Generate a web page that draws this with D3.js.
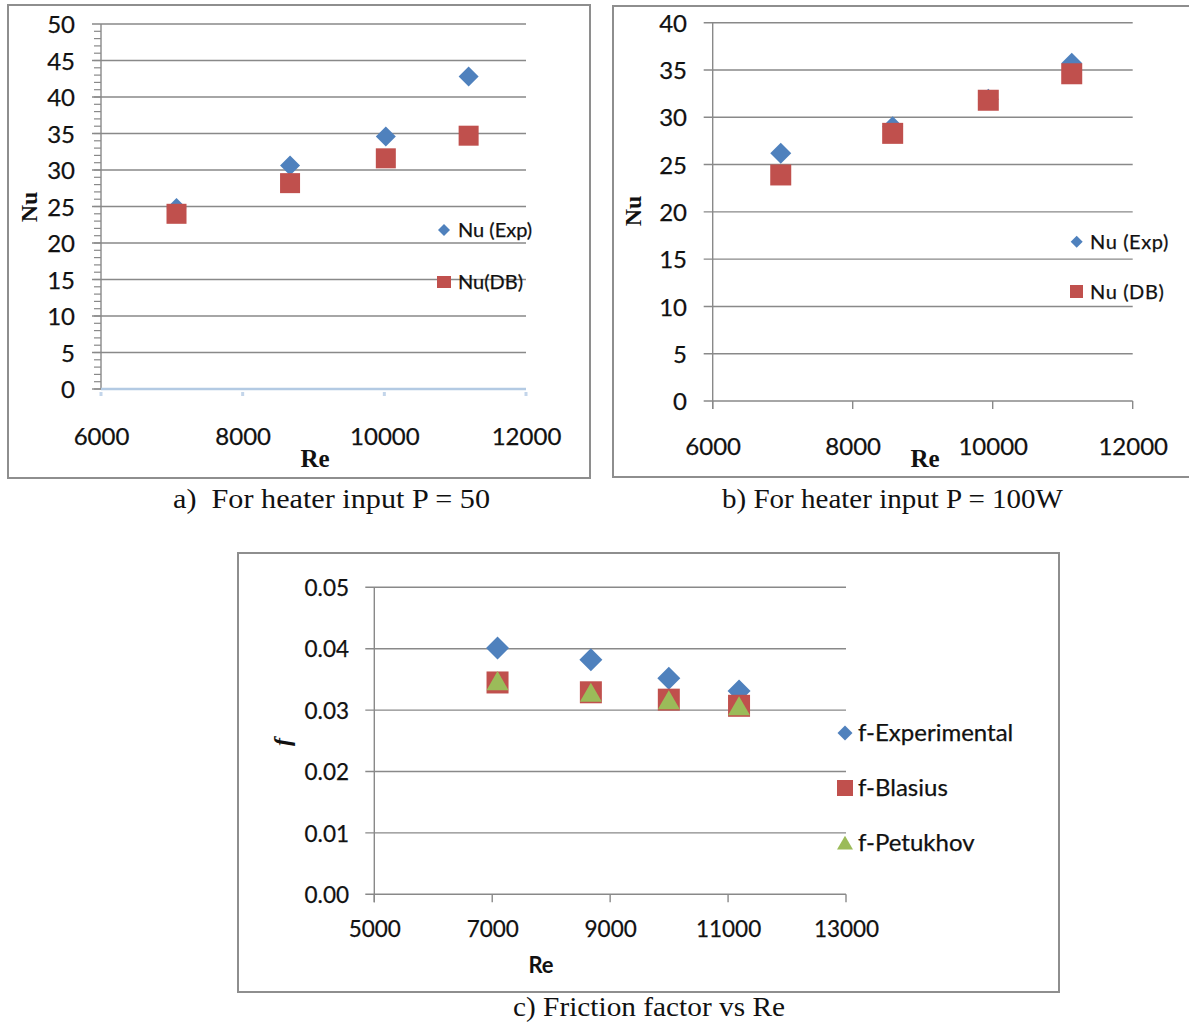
<!DOCTYPE html>
<html>
<head>
<meta charset="utf-8">
<script src="https://cdn.jsdelivr.net/npm/d3@7"></script>
<style>
  body { margin: 0; background: #fff; }
  svg { display: block; }
  .tick text { font-family: Lato, 'Open Sans', sans-serif; fill: #111; stroke: #111; stroke-width: 0.25px; }
</style>
</head>
<body>
<svg width="1189" height="1023"></svg>
<script>
// a) heater input P = 50
const reA = [7066, 8669, 10021, 11190];
const nuExpA = [24.8, 30.6, 34.6, 42.8];
const nuDbA = [24.0, 28.2, 31.6, 34.7];
const xTicksA = [6000, 8000, 10000, 12000];
const yTicksA = [0, 5, 10, 15, 20, 25, 30, 35, 40, 45, 50];

// b) heater input P = 100W
const reB = [6972, 8571, 9937, 11129];
const nuExpB = [26.2, 29.0, 31.9, 35.7];
const nuDbB = [23.9, 28.3, 31.8, 34.6];
const xTicksB = [6000, 8000, 10000, 12000];
const yTicksB = [0, 5, 10, 15, 20, 25, 30, 35, 40];

// c) friction factor vs Re
const reC = [7090, 8673, 9995, 11186];
const fExp = [0.0401, 0.0382, 0.0352, 0.0331];
const fBlasius = [0.0345, 0.0329, 0.0317, 0.0307];
const fPetukhov = [0.0348, 0.0329, 0.0317, 0.0307];
const xTicksC = [5000, 7000, 9000, 11000, 13000];
const yTicksC = [0, 0.01, 0.02, 0.03, 0.04, 0.05];

const BLUE = '#4F81BD', RED = '#C0504D', GREEN = '#9BBB59', GRID = '#898989';

const svg = d3.select('svg');

function panel(c) {
  const g = svg.append('g');
  g.append('rect')
    .attr('x', c.frame[0]).attr('y', c.frame[1])
    .attr('width', c.frame[2]).attr('height', c.frame[3])
    .attr('fill', '#fff').attr('stroke', '#8e8e8e').attr('stroke-width', 2);

  const x = d3.scaleLinear().domain(c.xDomain).range([c.left, c.right]);
  const y = d3.scaleLinear().domain(c.yDomain).range([c.bottom, c.top]);

  // minor ticks on the value axis
  if (c.minor) {
    g.selectAll('.minor').data(d3.range(c.yDomain[0], c.yDomain[1], c.minor))
      .enter().append('line')
      .attr('x1', c.left - 7).attr('x2', c.left)
      .attr('y1', d => y(d)).attr('y2', d => y(d))
      .attr('stroke', GRID).attr('stroke-width', 1.2);
  }

  // gridlines
  g.selectAll('.grid').data(c.yTicks)
    .enter().append('line')
    .attr('x1', c.left - 9)
    .attr('x2', d => (c.blueAxis && d === 0) ? c.left : c.right)
    .attr('y1', d => y(d)).attr('y2', d => y(d))
    .attr('stroke', GRID).attr('stroke-width', 1.4);

  // value axis line
  g.append('line')
    .attr('x1', c.left).attr('x2', c.left)
    .attr('y1', c.top).attr('y2', c.blueAxis ? c.bottom : c.bottom + 8)
    .attr('stroke', GRID).attr('stroke-width', 1.4);

  // category axis line + ticks
  if (c.blueAxis) {
    g.append('line')
      .attr('x1', c.left).attr('x2', c.right)
      .attr('y1', c.bottom).attr('y2', c.bottom)
      .attr('stroke', '#b3cae3').attr('stroke-width', 2.5);
    g.selectAll('.bt').data(c.xTicks).enter().append('line')
      .attr('x1', d => x(d)).attr('x2', d => x(d))
      .attr('y1', c.bottom + 3).attr('y2', c.bottom + 7)
      .attr('stroke', '#c3d5ea').attr('stroke-width', 3);
  } else {
    g.selectAll('.xt').data(c.xTicks).enter().append('line')
      .attr('x1', d => x(d)).attr('x2', d => x(d))
      .attr('y1', c.bottom).attr('y2', c.bottom + 8)
      .attr('stroke', GRID).attr('stroke-width', 1.4);
  }

  // tick labels
  const ya = g.append('g')
    .attr('transform', `translate(${c.yLabelRight},0)`)
    .call(d3.axisLeft(y).tickValues(c.yTicks).tickSize(0).tickPadding(0).tickFormat(c.yFmt));
  ya.select('.domain').remove();
  ya.selectAll('text').attr('font-size', c.fontSize).attr('dy', '0.36em');

  const xa = g.append('g')
    .attr('transform', `translate(0,${c.xLabelBase})`)
    .call(d3.axisBottom(x).tickValues(c.xTicks).tickSize(0).tickPadding(0).tickFormat(d3.format('d')));
  xa.select('.domain').remove();
  xa.selectAll('text').attr('font-size', c.fontSize).attr('y', 0).attr('dy', 0);

  return { g, x, y };
}

function diamonds(g, xs, ys, x, y, d, color) {
  g.selectAll(null).data(xs.map((v, i) => [v, ys[i]])).enter().append('path')
    .attr('d', d3.symbol(d3.symbolSquare, d * d / 2)())
    .attr('transform', p => `translate(${x(p[0])},${y(p[1])}) rotate(45)`)
    .attr('fill', color);
}
function squares(g, xs, ys, x, y, s, color) {
  g.selectAll(null).data(xs.map((v, i) => [v, ys[i]])).enter().append('rect')
    .attr('x', p => x(p[0]) - s / 2).attr('y', p => y(p[1]) - s / 2)
    .attr('width', s).attr('height', s)
    .attr('fill', color);
}
function triangles(g, xs, ys, x, y, w, color) {
  const r = w / (2 * Math.sqrt(3));
  g.selectAll(null).data(xs.map((v, i) => [v, ys[i]])).enter().append('path')
    .attr('d', d3.symbol(d3.symbolTriangle, r * r * 3 * Math.sqrt(3))())
    .attr('transform', p => `translate(${x(p[0])},${y(p[1]) + r * 0.5})`)
    .attr('fill', color);
}

function legendText(g, tx, ty, txt, size, spacing) {
  g.append('text').attr('x', tx).attr('y', ty).text(txt)
    .attr('font-family', "Lato, 'Open Sans', sans-serif")
    .attr('font-size', size).attr('fill', '#111')
    .attr('stroke', '#111').attr('stroke-width', 0.25)
    .attr('letter-spacing', spacing || 0);
}

function serifTitle(g, tx, ty, txt, size, rotate, italic) {
  const t = g.append('text').text(txt)
    .attr('font-family', "'Liberation Serif', 'Times New Roman', serif")
    .attr('font-weight', 'bold').attr('font-size', size)
    .attr('text-anchor', 'middle').attr('fill', '#111');
  if (italic) t.attr('font-style', 'italic');
  if (rotate) t.attr('transform', `translate(${tx},${ty}) rotate(-90)`).attr('dy', '0.35em');
  else t.attr('x', tx).attr('y', ty);
}

// ---- panel a
const pa = panel({
  frame: [8, 5, 582, 473], left: 101, right: 526, top: 24, bottom: 389,
  xDomain: [6000, 12000], yDomain: [0, 50], xTicks: xTicksA, yTicks: yTicksA,
  yFmt: d3.format('d'), yLabelRight: 75, xLabelBase: 445, fontSize: 24,
  minor: 1, blueAxis: true
});
diamonds(pa.g, reA, nuExpA, pa.x, pa.y, 20, BLUE);
squares(pa.g, reA, nuDbA, pa.x, pa.y, 20, RED);
serifTitle(pa.g, 29, 207, 'Nu', 24, true);
serifTitle(pa.g, 315, 467, 'Re', 25);
pa.g.append('path').attr('d', d3.symbol(d3.symbolSquare, 72)())
  .attr('transform', 'translate(444,230) rotate(45)').attr('fill', BLUE);
legendText(pa.g, 458, 237, 'Nu (Exp)', 20);
pa.g.append('rect').attr('x', 437).attr('y', 276).attr('width', 14).attr('height', 12).attr('fill', RED);
legendText(pa.g, 458, 289, 'Nu(DB)', 20);

// ---- panel b
const pb = panel({
  frame: [613, 6, 590, 471], left: 712.7, right: 1132.7, top: 22.7, bottom: 401,
  xDomain: [6000, 12000], yDomain: [0, 40], xTicks: xTicksB, yTicks: yTicksB,
  yFmt: d3.format('d'), yLabelRight: 687, xLabelBase: 455, fontSize: 24
});
diamonds(pb.g, reB, nuExpB, pb.x, pb.y, 21, BLUE);
squares(pb.g, reB, nuDbB, pb.x, pb.y, 21, RED);
serifTitle(pb.g, 632.5, 211, 'Nu', 24, true);
serifTitle(pb.g, 925, 467, 'Re', 25);
pb.g.append('path').attr('d', d3.symbol(d3.symbolSquare, 72)())
  .attr('transform', 'translate(1076.7,241.7) rotate(45)').attr('fill', BLUE);
legendText(pb.g, 1090, 249, 'Nu (Exp)', 20, 0.6);
pb.g.append('rect').attr('x', 1070).attr('y', 285).attr('width', 13).attr('height', 13).attr('fill', RED);
legendText(pb.g, 1090, 299, 'Nu (DB)', 20, 0.6);

// ---- panel c
const pc = panel({
  frame: [238, 553, 821, 439], left: 374.3, right: 846, top: 587.3, bottom: 894.3,
  xDomain: [5000, 13000], yDomain: [0, 0.05], xTicks: xTicksC, yTicks: yTicksC,
  yFmt: d3.format('.2f'), yLabelRight: 349, xLabelBase: 937, fontSize: 22.5
});
diamonds(pc.g, reC, fExp, pc.x, pc.y, 23, BLUE);
squares(pc.g, reC, fBlasius, pc.x, pc.y, 22, RED);
triangles(pc.g, reC, fPetukhov, pc.x, pc.y, 22, GREEN);
serifTitle(pc.g, 282, 742, 'f', 24, true, true);
pc.g.append('text').attr('x', 541).attr('y', 973).text('Re')
  .attr('font-family', "Lato, 'Open Sans', sans-serif").attr('font-weight', 'bold')
  .attr('font-size', 22).attr('text-anchor', 'middle').attr('fill', '#111');
pc.g.append('path').attr('d', d3.symbol(d3.symbolSquare, 112)())
  .attr('transform', 'translate(845,733) rotate(45)').attr('fill', BLUE);
legendText(pc.g, 858, 741, 'f-Experimental', 24);
pc.g.append('rect').attr('x', 837).attr('y', 780).attr('width', 16).attr('height', 16).attr('fill', RED);
legendText(pc.g, 858, 796, 'f-Blasius', 24);
pc.g.append('path').attr('d', d3.symbol(d3.symbolTriangle, 110)())
  .attr('transform', 'translate(845,845)').attr('fill', GREEN);
legendText(pc.g, 858, 851, 'f-Petukhov', 24);

// captions
const captions = [
  { t: 'a)  For heater input P = 50', x: 173, y: 508, w: 317 },
  { t: 'b) For heater input P = 100W', x: 722, y: 508, w: 341 },
  { t: 'c) Friction factor vs Re', x: 513, y: 1016, w: 272 }
];
svg.selectAll('.cap').data(captions).enter().append('text')
  .attr('x', d => d.x).attr('y', d => d.y).text(d => d.t)
  .attr('font-family', "'Liberation Serif', 'Times New Roman', serif")
  .attr('font-size', 27).attr('fill', '#111')
  .style('white-space', 'pre')
  .attr('textLength', d => d.w).attr('lengthAdjust', 'spacingAndGlyphs');
</script>
</body>
</html>
